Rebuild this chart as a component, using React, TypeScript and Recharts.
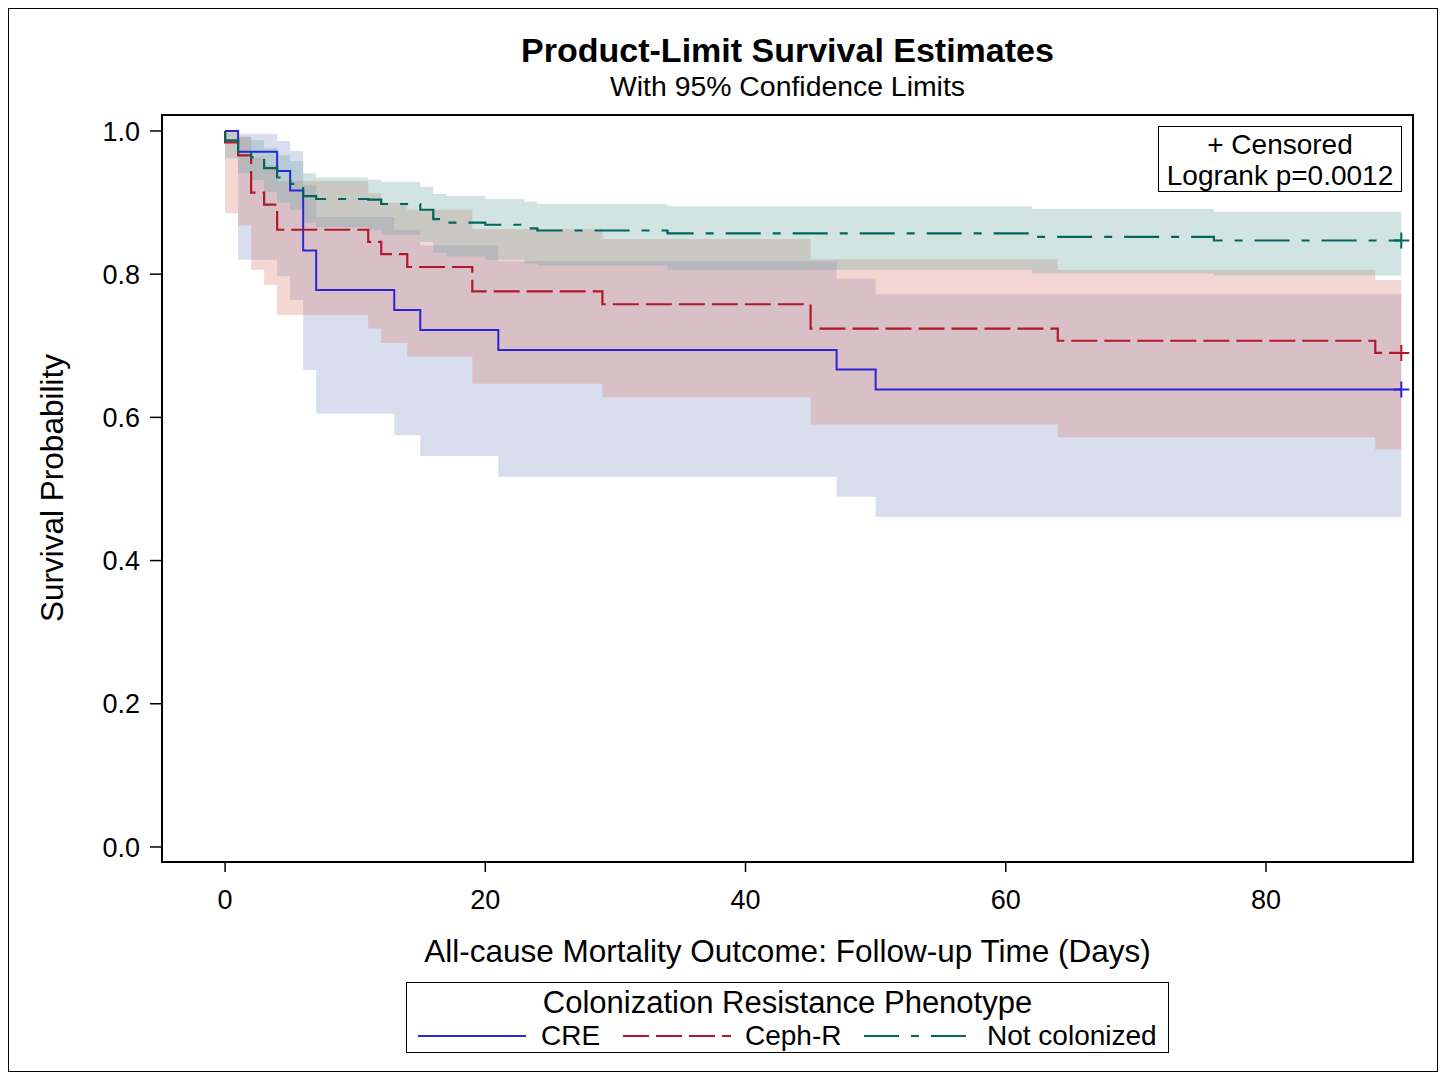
import React from 'react';
import { ComposedChart, Area, Line, Scatter, XAxis, YAxis } from 'recharts';

// CRE
const creTime = [0, 1, 4, 5, 6, 7, 13, 15, 21, 47, 50, 90.4];
const creSurv = [1.0, 0.971, 0.944, 0.917, 0.833, 0.778, 0.75, 0.722, 0.694, 0.667, 0.639, 0.639];
const creLower = [1.0, 0.82, 0.797, 0.764, 0.666, 0.605, 0.575, 0.546, 0.517, 0.489, 0.461, 0.461];
const creUpper = [1.0, 0.996, 0.986, 0.972, 0.925, 0.88, 0.862, 0.84, 0.818, 0.794, 0.772, 0.772];

// Ceph-R
const cephTime = [0, 0, 1, 2, 3, 4, 11, 12, 14, 19, 29, 45, 64, 88.4, 90.4];
const cephSurv = [1.0, 0.984, 0.966, 0.914, 0.897, 0.862, 0.845, 0.828, 0.81, 0.776, 0.758, 0.724, 0.707, 0.69, 0.69];
const cephLower = [1.0, 0.885, 0.868, 0.806, 0.785, 0.743, 0.724, 0.704, 0.685, 0.647, 0.628, 0.59, 0.572, 0.555, 0.555];
const cephUpper = [1.0, 0.998, 0.992, 0.963, 0.952, 0.93, 0.913, 0.9, 0.89, 0.863, 0.849, 0.821, 0.806, 0.792, 0.792];

// Not colonized
const ncTime = [0, 0, 1, 2, 3, 4, 5, 6, 7, 11, 12, 15, 16, 17, 20, 23, 24, 34, 62, 76, 90.4];
const ncSurv = [1.0, 0.987, 0.971, 0.963, 0.948, 0.935, 0.926, 0.909, 0.905, 0.904, 0.898, 0.89, 0.877, 0.872, 0.869, 0.864, 0.861, 0.857, 0.852, 0.847, 0.847];
const ncLower = [1.0, 0.962, 0.941, 0.932, 0.915, 0.9, 0.89, 0.872, 0.866, 0.862, 0.855, 0.845, 0.83, 0.825, 0.82, 0.815, 0.812, 0.806, 0.801, 0.798, 0.798];
const ncUpper = [1.0, 0.999, 0.992, 0.987, 0.976, 0.966, 0.958, 0.941, 0.935, 0.932, 0.929, 0.922, 0.912, 0.909, 0.905, 0.901, 0.898, 0.895, 0.891, 0.887, 0.887];

const xTicks = [0, 20, 40, 60, 80];
const yTicks = [0, 0.2, 0.4, 0.6, 0.8, 1.0];

const BLUE = '#2A25D9';
const RED = '#B2182B';
const TEAL = '#01665E';

const build = (time: number[], surv: number[], lower: number[], upper: number[]) =>
  time.map((t, i) => ({ t, s: surv[i], band: [lower[i], upper[i]] }));

const lastPoint = (time: number[], surv: number[]) => [{ t: time[time.length - 1], s: surv[surv.length - 1] }];

const creData = build(creTime, creSurv, creLower, creUpper);
const cephData = build(cephTime, cephSurv, cephLower, cephUpper);
const ncData = build(ncTime, ncSurv, ncLower, ncUpper);

const plus = (color: string) => (props: any) => {
  const { cx, cy } = props;
  return <path d={`M${cx - 8},${cy}H${cx + 8}M${cx},${cy - 8}V${cy + 8}`} stroke={color} strokeWidth={2} fill="none" />;
};

const font = '"Liberation Sans", Arial, sans-serif';

function LegendSample({ color, dash }: { color: string; dash?: string }) {
  return (
    <svg width={108} height={6} style={{ display: 'block' }}>
      <line x1={0} y1={3} x2={108} y2={3} stroke={color} strokeWidth={2} strokeDasharray={dash} />
    </svg>
  );
}

export default function App() {
  return (
    <div style={{ position: 'fixed', left: 8, top: 8, width: 1428, height: 1062, border: '1px solid #000', fontFamily: font, color: '#000', background: '#fff' }}>
      <div style={{ position: 'absolute', left: 153, width: 1251, top: 24, textAlign: 'center', fontSize: 34, lineHeight: '34px', fontWeight: 'bold' }}>
        Product-Limit Survival Estimates
      </div>
      <div style={{ position: 'absolute', left: 153, width: 1251, top: 63, textAlign: 'center', fontSize: 28.4, lineHeight: '28px' }}>
        With 95% Confidence Limits
      </div>

      <div style={{ position: 'absolute', left: 0, top: 0 }}>
        <ComposedChart width={1428} height={1062} margin={{ top: 106, right: 24, bottom: 109, left: 0 }}>
          <XAxis
            type="number"
            dataKey="t"
            domain={[-4.85, 91.3]}
            ticks={xTicks}
            allowDataOverflow
            height={100}
            tickSize={10}
            tickMargin={18}
            axisLine={false}
            tickLine={{ stroke: '#000', strokeWidth: 1.5 }}
            tick={{ fill: '#000', fontSize: 27 }}
          />
          <YAxis
            type="number"
            domain={[-0.021, 1.0223]}
            ticks={yTicks}
            allowDataOverflow
            width={153}
            tickSize={12}
            tickMargin={10}
            axisLine={false}
            tickLine={{ stroke: '#000', strokeWidth: 1.5 }}
            tick={{ fill: '#000', fontSize: 27 }}
            tickFormatter={(v: number) => v.toFixed(1)}
          />
          <Area data={creData} dataKey="band" type="stepAfter" stroke="none" fill="#7D91C6" fillOpacity={0.3} isAnimationActive={false} />
          <Area data={cephData} dataKey="band" type="stepAfter" stroke="none" fill="#DA7A6C" fillOpacity={0.3} isAnimationActive={false} />
          <Area data={ncData} dataKey="band" type="stepAfter" stroke="none" fill="#66A5A0" fillOpacity={0.3} isAnimationActive={false} />
          <Line data={creData} dataKey="s" type="stepAfter" stroke={BLUE} strokeWidth={2} dot={false} isAnimationActive={false} />
          <Line data={cephData} dataKey="s" type="stepAfter" stroke={RED} strokeWidth={2.2} strokeDasharray="26 7" dot={false} isAnimationActive={false} />
          <Line data={ncData} dataKey="s" type="stepAfter" stroke={TEAL} strokeWidth={2.2} strokeDasharray="35 12 8 12" dot={false} isAnimationActive={false} />
          <Scatter data={lastPoint(creTime, creSurv)} dataKey="s" shape={plus(BLUE)} isAnimationActive={false} />
          <Scatter data={lastPoint(cephTime, cephSurv)} dataKey="s" shape={plus(RED)} isAnimationActive={false} />
          <Scatter data={lastPoint(ncTime, ncSurv)} dataKey="s" shape={plus(TEAL)} isAnimationActive={false} />
        </ComposedChart>
      </div>

      {/* plot frame */}
      <div style={{ position: 'absolute', left: 152, top: 105, width: 1253, height: 749, border: '2px solid #000', boxSizing: 'border-box', pointerEvents: 'none' }} />

      {/* inset */}
      <div style={{ position: 'absolute', left: 1149, top: 117, width: 244, height: 66, border: '1.5px solid #000', boxSizing: 'border-box', background: '#fff', textAlign: 'center', fontSize: 28, lineHeight: '31px', paddingTop: 2 }}>
        <div>+ Censored</div>
        <div>Logrank p=0.0012</div>
      </div>

      <div style={{ position: 'absolute', left: 153, width: 1251, top: 926, textAlign: 'center', fontSize: 31.5, lineHeight: '32px' }}>
        All-cause Mortality Outcome: Follow-up Time (Days)
      </div>
      <div style={{ position: 'absolute', left: 43, top: 479, width: 0, height: 0 }}>
        <div style={{ position: 'absolute', left: -200, top: -16, width: 400, textAlign: 'center', fontSize: 31.5, lineHeight: '32px', transform: 'rotate(-90deg)', whiteSpace: 'nowrap' }}>
          Survival Probability
        </div>
      </div>

      {/* legend */}
      <div style={{ position: 'absolute', left: 397, top: 973, width: 763, height: 71, border: '1.5px solid #000', boxSizing: 'border-box', fontSize: 28, lineHeight: '28px' }}>
        <div style={{ position: 'absolute', left: 0, width: '100%', top: 4, textAlign: 'center', fontSize: 31, lineHeight: '31px' }}>Colonization Resistance Phenotype</div>
        <div style={{ position: 'absolute', left: 11, top: 50 }}><LegendSample color={BLUE} /></div>
        <div style={{ position: 'absolute', left: 134, top: 39 }}>CRE</div>
        <div style={{ position: 'absolute', left: 216, top: 50 }}><LegendSample color={RED} dash="26 7" /></div>
        <div style={{ position: 'absolute', left: 338, top: 39 }}>Ceph-R</div>
        <div style={{ position: 'absolute', left: 457, top: 50 }}><LegendSample color={TEAL} dash="35 12 8 12" /></div>
        <div style={{ position: 'absolute', left: 580, top: 39 }}>Not colonized</div>
      </div>
    </div>
  );
}
